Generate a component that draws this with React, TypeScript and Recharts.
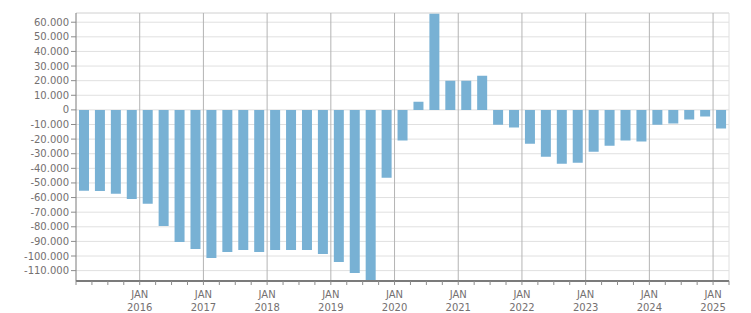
import React from "react";
import {
  BarChart,
  Bar,
  XAxis,
  YAxis,
  CartesianGrid,
  ReferenceLine,
} from "recharts";

const quarters = [
  "2015 Q1", "2015 Q2", "2015 Q3", "2015 Q4",
  "2016 Q1", "2016 Q2", "2016 Q3", "2016 Q4",
  "2017 Q1", "2017 Q2", "2017 Q3", "2017 Q4",
  "2018 Q1", "2018 Q2", "2018 Q3", "2018 Q4",
  "2019 Q1", "2019 Q2", "2019 Q3", "2019 Q4",
  "2020 Q1", "2020 Q2", "2020 Q3", "2020 Q4",
  "2021 Q1", "2021 Q2", "2021 Q3", "2021 Q4",
  "2022 Q1", "2022 Q2", "2022 Q3", "2022 Q4",
  "2023 Q1", "2023 Q2", "2023 Q3", "2023 Q4",
  "2024 Q1", "2024 Q2", "2024 Q3", "2024 Q4",
  "2025 Q1",
];

const balance = [
  -55400, -55500, -57400, -60900,
  -64300, -79400, -90400, -95200,
  -101400, -97200, -95900, -97200,
  -95900, -95900, -95900, -98600,
  -104100, -111600, -116700, -46400,
  -21000, 5500, 65900, 19900,
  19900, 23300, -10100, -12100,
  -23100, -32000, -36800, -36200,
  -28600, -24500, -21000, -21700,
  -10100, -9400, -6600, -4600,
  -12800,
];

const yTicks = [
  60000, 50000, 40000, 30000, 20000, 10000, 0, -10000, -20000, -30000,
  -40000, -50000, -60000, -70000, -80000, -90000, -100000, -110000,
];

const janYears = ["2016", "2017", "2018", "2019", "2020", "2021", "2022", "2023", "2024", "2025"];

const yMin = -117100;
const yMax = 66300;

const labelColor = "#747070";
const font = "'DejaVu Sans', Verdana, sans-serif";

const rows = quarters.map((q, i) => ({ q, value: balance[i], pos: i + 0.5 }));
const boundaries = Array.from({ length: quarters.length + 1 }, (_, i) => i);
const janBounds = janYears.map((_, i) => (i + 1) * 4);

function fmt(v: number) {
  const s = String(Math.abs(v)).replace(/\B(?=(\d{3})+(?!\d))/g, ".");
  return v < 0 ? "-" + s : s;
}

function QuarterTick({ x, y, payload }: any) {
  const v = payload.value;
  if (v === 0 || v % 4 !== 0) return <g />;
  const year = janYears[v / 4 - 1];
  if (!year) return <g />;
  return (
    <text x={x} y={y} textAnchor="middle" fill={labelColor} fontSize={10} fontFamily={font}>
      <tspan x={x} dy={11}>JAN</tspan>
      <tspan x={x} dy={12.5}>{year}</tspan>
    </text>
  );
}

export default function App() {
  return (
    <div style={{ position: "absolute", left: 0, top: 0, fontFamily: font }}>
      <BarChart
        width={751}
        height={313}
        data={rows}
        margin={{ top: 13, right: 22, bottom: 0, left: 0 }}
      >
        <CartesianGrid xAxisId="num" vertical={false} stroke="#e0e0e0" />
        <XAxis xAxisId="cat" dataKey="q" orientation="top" hide />
        <XAxis
          xAxisId="num"
          type="number"
          dataKey="pos"
          domain={[0, quarters.length]}
          ticks={boundaries}
          interval={0}
          allowDataOverflow
          height={32}
          tickSize={4}
          tickMargin={2}
          tickLine={{ stroke: "#8c8c8c" }}
          axisLine={{ stroke: "#7b7b7b", strokeWidth: 2 }}
          tick={<QuarterTick />}
        />
        <YAxis
          domain={[yMin, yMax]}
          ticks={yTicks}
          interval={0}
          allowDataOverflow
          width={76}
          tickSize={5}
          tickMargin={2}
          tickFormatter={fmt}
          tick={{ fill: labelColor, fontSize: 10, fontFamily: font }}
          tickLine={{ stroke: "#8c8c8c" }}
          axisLine={{ stroke: "#7b7b7b" }}
        />
        <ReferenceLine xAxisId="num" y={yMax} stroke="#e0e0e0" />
        <ReferenceLine xAxisId="num" x={quarters.length} stroke="#e0e0e0" />
        {janBounds.map((b) => (
          <ReferenceLine key={b} xAxisId="num" x={b} stroke="#b4b4b4" />
        ))}
        <Bar
          xAxisId="cat"
          dataKey="value"
          fill="#78b1d4"
          barSize={10}
          isAnimationActive={false}
        />
      </BarChart>
    </div>
  );
}
